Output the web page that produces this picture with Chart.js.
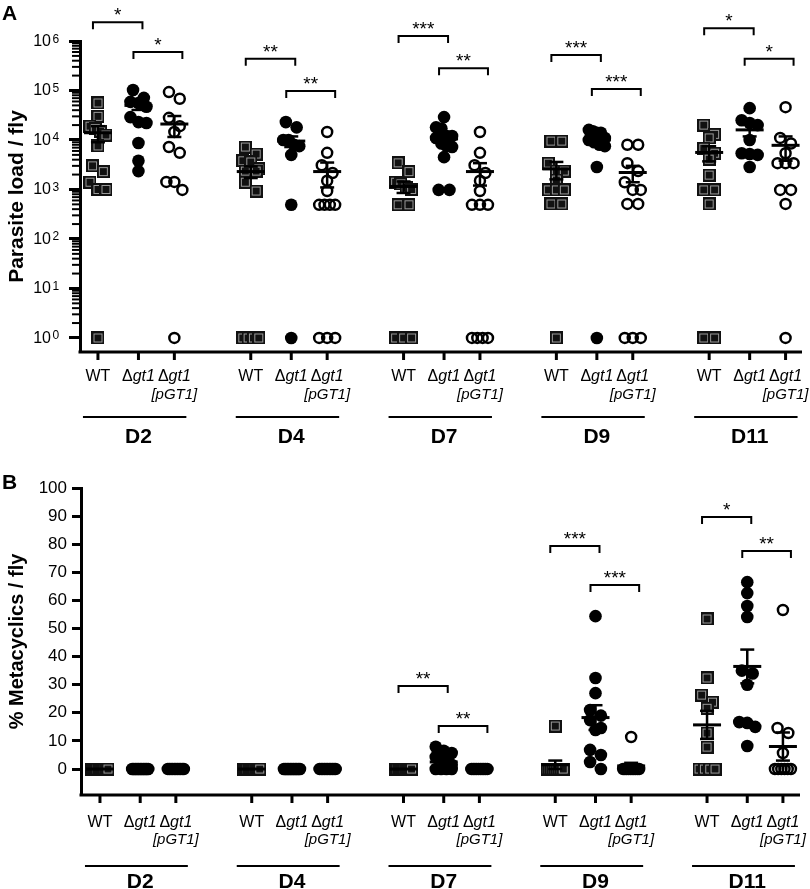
<!DOCTYPE html>
<html>
<head>
<meta charset="utf-8">
<script src="https://cdn.jsdelivr.net/npm/chart.js@4.4.1/dist/chart.umd.min.js"></script>
<style>
  body { margin: 0; background: #fff; }
  canvas { display: block; }
</style>
</head>
<body>
<canvas id="loadChart" width="810" height="450"></canvas>
<canvas id="metaChart" width="810" height="439"></canvas>
<script>
const days = ['D2', 'D4', 'D7', 'D9', 'D11'];
const strains = ['WT', 'Δgt1', 'Δgt1 [pGT1]'];
const tickExponents = [0, 1, 2, 3, 4, 5, 6];
const pctTicks = [0, 10, 20, 30, 40, 50, 60, 70, 80, 90, 100];

// Panel A: parasite load / fly (flies without parasites sit at 10^0)
const loadWT = [
  [56000, 30000, 19000, 17000, 15000, 12600, 7600, 3000, 2300, 1400, 1000, 1000, 1],
  [7200, 5200, 3800, 3600, 2600, 2350, 2350, 1400, 930, 1, 1, 1, 1],
  [3450, 2300, 1400, 1300, 1100, 1000, 490, 490, 1, 1, 1],
  [9500, 9500, 3400, 2350, 2350, 1550, 980, 980, 980, 510, 510, 1],
  [20000, 13000, 11000, 6800, 5400, 4100, 1950, 980, 980, 510, 1, 1]
];
const loadKO = [
  [102000, 71000, 59000, 56000, 47000, 29000, 23000, 22000, 8700, 3800, 2350],
  [23000, 18000, 10000, 10000, 8000, 7500, 5000, 490, 1],
  [29000, 18000, 17000, 12000, 12000, 11000, 8500, 7500, 7200, 4500, 980, 980],
  [16000, 15000, 14000, 14000, 11000, 10000, 9000, 8000, 7500, 2850, 1],
  [44000, 25000, 22000, 20000, 10000, 5400, 5200, 5000, 2850]
];
const loadAB = [
  [93000, 68000, 28000, 19000, 14500, 7200, 5500, 1420, 1420, 980, 1],
  [14500, 5500, 3100, 2150, 1500, 930, 490, 490, 490, 490, 1, 1, 1],
  [14500, 5500, 3100, 2150, 1500, 930, 490, 490, 490, 1, 1, 1, 1],
  [8000, 8000, 3400, 2350, 1400, 980, 980, 510, 510, 1, 1, 1],
  [46000, 11000, 8500, 5400, 3400, 3400, 3400, 980, 980, 510, 1]
];
const loadMean = [[14000, 2300, 1150, 2600, 5600], [50000, 9500, 10500, 10000, 16000], [21000, 2300, 2300, 2200, 7800]];
const loadSem = [[5000, 600, 300, 1000, 1900], [9500, 2300, 2400, 1500, 4200], [9500, 1200, 1100, 800, 4000]];
const loadBracket1 = [2.4e6, 4.4e5, 1.26e6, 5.2e5, 1.8e6];
const loadBracket2 = [6.0e5, 9.8e4, 2.8e5, 1.07e5, 4.4e5];
const loadStars1 = ['*', '**', '***', '***', '*'];
const loadStars2 = ['*', '**', '**', '***', '*'];

// Panel B: % metacyclics / fly
const metaWT = [
  [0, 0, 0, 0, 0, 0, 0, 0, 0, 0],
  [0, 0, 0, 0, 0, 0, 0, 0, 0, 0],
  [0, 0, 0, 0, 0, 0, 0, 0, 0, 0],
  [15.3, 0, 0, 0, 0, 0, 0, 0, 0, 0],
  [53.4, 32.4, 26.3, 23.8, 21.6, 12.8, 7.8, 0, 0, 0, 0]
];
const metaKO = [
  [0, 0, 0, 0, 0, 0, 0, 0, 0, 0, 0],
  [0, 0, 0, 0, 0, 0, 0, 0, 0, 0, 0],
  [7.9, 6.5, 5.7, 4.3, 3.9, 2.1, 1.5, 0, 0, 0, 0],
  [54.4, 32.4, 27.0, 21.0, 19.0, 17.4, 14.6, 13.9, 6.8, 5.0, 2.5, 0],
  [66.5, 62.6, 58.0, 54.1, 35.0, 34.0, 30.0, 16.7, 16.4, 15.0, 8.2]
];
const metaAB = [
  [0, 0, 0, 0, 0, 0, 0, 0, 0, 0, 0],
  [0, 0, 0, 0, 0, 0, 0, 0, 0, 0, 0],
  [0, 0, 0, 0, 0, 0, 0, 0, 0, 0],
  [11.4, 0, 0, 0, 0, 0, 0, 0, 0, 0, 0],
  [56.6, 14.6, 12.8, 5.7, 0, 0, 0, 0, 0, 0]
];
const metaMean = [[0, 0, 0, 1.5, 15.7], [0, 0, 2.5, 18.3, 36.5], [0, 0, 0, 1.1, 8.0]];
const metaSem = [[0, 0, 0, 1.5, 5.0], [0, 0, 0.9, 4.4, 6.0], [0, 0, 0, 1.1, 5.0]];
const metaBracket1 = [null, null, 29.5, 79.4, 89.7];
const metaBracket2 = [null, null, 15.3, 65.5, 77.6];
const metaStars1 = ['', '', '**', '***', '*'];
const metaStars2 = ['', '', '**', '***', '**'];

const FONT = '"Liberation Sans", Arial, sans-serif';
const slot = [0, 1.06, 2.0];   // strain position inside a day
const daySpacing = 4;

// square marker: black with a thin grey inner frame
function squareMarker() {
  const c = document.createElement('canvas');
  c.width = 13; c.height = 13;
  const g = c.getContext('2d');
  g.fillStyle = '#111';
  g.fillRect(0, 0, 13, 13);
  g.strokeStyle = '#9a9a9a';
  g.lineWidth = 1;
  g.strokeRect(2.5, 2.5, 8, 8);
  return c;
}
const squareImg = squareMarker();

// simple scatter spreading: points that sit close in y share a row
function swarm(vals, toPx, diam, maxSpan) {
  const order = vals.map((v, i) => i).sort((a, b) => vals[b] - vals[a]);
  const off = vals.map(() => 0);
  let row = [];
  const flush = () => {
    const n = row.length;
    const step = n > 1 ? Math.min(diam * 0.9, maxSpan / (n - 1)) : 0;
    row.forEach((i, k) => { off[i] = (k - (n - 1) / 2) * step; });
    row = [];
  };
  order.forEach(i => {
    if (row.length && Math.abs(toPx(vals[i]) - toPx(vals[row[0]])) > diam * 0.8) flush();
    row.push(i);
  });
  flush();
  return off;
}

function buildPoints(groups, s, toPx, pxPerUnit) {
  const pts = [];
  groups.forEach((vals, g) => {
    const off = swarm(vals, toPx, 12, 16);
    vals.forEach((v, i) => pts.push({ x: g * daySpacing + slot[s] + off[i] / pxPerUnit, y: v }));
  });
  return pts;
}

function makeDatasets(wt, ko, ab, toPx, ppu) {
  return [
    { label: strains[0], data: buildPoints(wt, 0, toPx, ppu), pointStyle: squareImg, pointRadius: 6 },
    { label: strains[1], data: buildPoints(ko, 1, toPx, ppu), pointStyle: 'circle', pointRadius: 6.3,
      backgroundColor: '#000', borderWidth: 0 },
    { label: strains[2], data: buildPoints(ab, 2, toPx, ppu), pointStyle: 'circle', pointRadius: 5,
      backgroundColor: 'rgba(0,0,0,0)', borderColor: '#000', borderWidth: 2.5 }
  ];
}

function decor(p) {
  return {
    id: 'decor',
    afterDatasetsDraw(chart) {
      const { ctx, chartArea: a, scales: { x, y } } = chart;
      const line = (x1, y1, x2, y2, w) => {
        ctx.lineWidth = w;
        ctx.beginPath(); ctx.moveTo(x1, y1); ctx.lineTo(x2, y2); ctx.stroke();
      };
      ctx.save();
      ctx.fillStyle = '#000';
      ctx.strokeStyle = '#000';

      // mean +/- SEM
      strains.forEach((st, s) => days.forEach((d, g) => {
        const cx = x.getPixelForValue(g * daySpacing + slot[s]);
        const m = p.mean[s][g], e = p.sem[s][g];
        const ym = y.getPixelForValue(m);
        line(cx - 14, ym, cx + 14, ym, 3);
        if (e > 0) {
          const yt = y.getPixelForValue(m + e), yb = y.getPixelForValue(m - e);
          line(cx, yt, cx, yb, 2.5);
          line(cx - 7, yt, cx + 7, yt, 2.5);
          line(cx - 7, yb, cx + 7, yb, 2.5);
        }
      }));

      // x axis with strain and day labels
      line(a.left - 1.5, a.bottom, a.right, a.bottom, 3);
      days.forEach((d, g) => {
        strains.forEach((st, s) => {
          const cx = x.getPixelForValue(g * daySpacing + slot[s]);
          line(cx, a.bottom, cx, a.bottom + 8, 3);
          const parts = st.split(' ');
          const first = parts[0];
          ctx.textBaseline = 'middle';
          if (first.startsWith('Δ')) {
            ctx.font = '16px ' + FONT;
            const w1 = ctx.measureText('Δ').width;
            ctx.font = 'italic 16px ' + FONT;
            const w2 = ctx.measureText(first.slice(1)).width;
            const left = cx - (w1 + w2) / 2;
            ctx.textAlign = 'left';
            ctx.font = '16px ' + FONT;
            ctx.fillText('Δ', left, a.bottom + p.lab1);
            ctx.font = 'italic 16px ' + FONT;
            ctx.fillText(first.slice(1), left + w1, a.bottom + p.lab1);
          } else {
            ctx.font = '16px ' + FONT;
            ctx.textAlign = 'center';
            ctx.fillText(first, cx, a.bottom + p.lab1);
          }
          if (parts[1]) {
            ctx.font = 'italic 15px ' + FONT;
            ctx.textAlign = 'center';
            ctx.fillText(parts[1], cx, a.bottom + p.lab2);
          }
        });
        const xl = x.getPixelForValue(g * daySpacing + slot[0]) - 15;
        const xr = x.getPixelForValue(g * daySpacing + slot[2]) + 12;
        line(xl, a.bottom + p.groupLine, xr, a.bottom + p.groupLine, 2);
        ctx.font = 'bold 21px ' + FONT;
        ctx.textAlign = 'center';
        ctx.textBaseline = 'middle';
        ctx.fillText(d, x.getPixelForValue(g * daySpacing + slot[1]), a.bottom + p.dayLabel);

        // significance brackets
        const bracket = (x1, x2, v, label) => {
          if (v == null) return;
          const yy = y.getPixelForValue(v);
          ctx.lineWidth = 2;
          ctx.beginPath();
          ctx.moveTo(x1, yy + 7); ctx.lineTo(x1, yy); ctx.lineTo(x2, yy); ctx.lineTo(x2, yy + 7);
          ctx.stroke();
          ctx.font = '19px ' + FONT;
          ctx.textAlign = 'center';
          ctx.textBaseline = 'alphabetic';
          ctx.fillText(label, (x1 + x2) / 2, yy - 1);
        };
        const pw = x.getPixelForValue(g * daySpacing + slot[0]);
        const pk = x.getPixelForValue(g * daySpacing + slot[1]);
        const pa = x.getPixelForValue(g * daySpacing + slot[2]);
        bracket(pw - 5, pk + 4, p.br1[g], p.st1[g]);
        bracket(pk - 5, pa + 8, p.br2[g], p.st2[g]);
      });

      // log axis: minor ticks and 10^n labels
      if (p.log) {
        tickExponents.forEach(e => {
          const yy = y.getPixelForValue(Math.pow(10, e));
          ctx.font = '16px ' + FONT;
          ctx.textAlign = 'right';
          ctx.textBaseline = 'middle';
          ctx.fillText('10', a.left - 29, yy + 0.5);
          ctx.font = '12px ' + FONT;
          ctx.textAlign = 'left';
          ctx.textBaseline = 'alphabetic';
          ctx.fillText(String(e), a.left - 27.5, yy + 1.5);
          if (e < tickExponents[tickExponents.length - 1]) {
            for (let k = 2; k <= 9; k++) {
              const ym = y.getPixelForValue(k * Math.pow(10, e));
              line(a.left - 8, ym, a.left, ym, 2);
            }
          }
        });
      }

      ctx.font = 'bold 21px ' + FONT;
      ctx.textAlign = 'left';
      ctx.textBaseline = 'top';
      ctx.fillText(p.letter, 2, p.letterY);
      ctx.restore();
    }
  };
}

const baseOptions = {
  responsive: false,
  animation: false,
  plugins: { legend: { display: false }, tooltip: { enabled: false } }
};

new Chart(document.getElementById('loadChart'), {
  type: 'scatter',
  data: { datasets: makeDatasets(loadWT, loadKO, loadAB, v => Math.log10(v) * 49.5, 38.2) },
  options: {
    ...baseOptions,
    layout: { padding: { left: 0, right: 8, top: 41, bottom: 98 } },
    scales: {
      x: { type: 'linear', min: -0.47, max: 18.43, display: false },
      y: {
        type: 'logarithmic', min: 0.52, max: 1e6, bounds: 'data',
        afterFit: s => { s.width = 80; },
        afterBuildTicks: s => { s.ticks = tickExponents.map(e => ({ value: Math.pow(10, e), major: true })); },
        border: { display: true, color: '#000', width: 3 },
        grid: { drawOnChartArea: false, tickLength: 11, tickWidth: 3, tickColor: '#000' },
        ticks: { callback: () => '' },
        title: { display: true, text: 'Parasite load / fly', color: '#000',
                 font: { family: FONT, size: 21, weight: 'bold' }, padding: { top: 5, bottom: 0 } }
      }
    }
  },
  plugins: [decor({ letter: 'A', letterY: 4, log: true, mean: loadMean, sem: loadSem,
    br1: loadBracket1, br2: loadBracket2, st1: loadStars1, st2: loadStars2,
    lab1: 25, lab2: 43, groupLine: 65, dayLabel: 85 })]
});

new Chart(document.getElementById('metaChart'), {
  type: 'scatter',
  data: { datasets: makeDatasets(metaWT, metaKO, metaAB, v => v * 2.81, 37.94) },
  options: {
    ...baseOptions,
    layout: { padding: { left: 0, right: 10, top: 38, bottom: 94 } },
    scales: {
      x: { type: 'linear', min: -0.5, max: 18.45, display: false },
      y: {
        type: 'linear', min: -9.25, max: 100,
        afterFit: s => { s.width = 81; },
        afterBuildTicks: s => { s.ticks = pctTicks.map(v => ({ value: v })); },
        border: { display: true, color: '#000', width: 3 },
        grid: { drawOnChartArea: false, tickLength: 9, tickWidth: 3, tickColor: '#000' },
        ticks: { color: '#000', font: { family: FONT, size: 17 }, padding: 5 },
        title: { display: true, text: '% Metacyclics / fly', color: '#000',
                 font: { family: FONT, size: 20, weight: 'bold' }, padding: { top: 5, bottom: 0 } }
      }
    }
  },
  plugins: [decor({ letter: 'B', letterY: 23, log: false, mean: metaMean, sem: metaSem,
    br1: metaBracket1, br2: metaBracket2, st1: metaStars1, st2: metaStars2,
    lab1: 28, lab2: 45, groupLine: 71, dayLabel: 87 })]
});
</script>
</body>
</html>
